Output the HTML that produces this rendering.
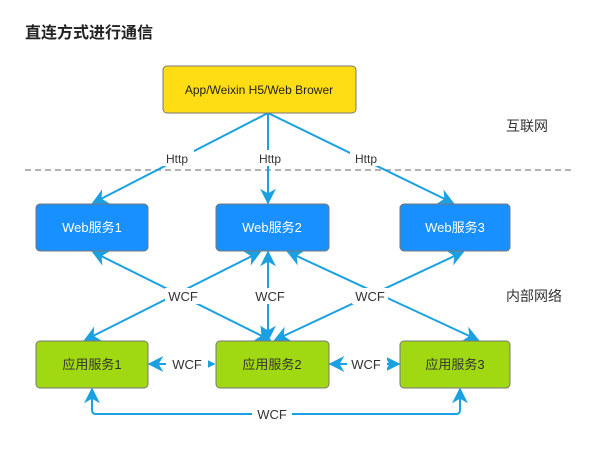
<!DOCTYPE html>
<html><head><meta charset="utf-8"><style>
body{margin:0;background:#fff;}
svg text{font-family:"Liberation Sans","Noto Sans CJK SC",sans-serif;}
</style></head><body>
<svg width="605" height="444" viewBox="0 0 605 444" xmlns="http://www.w3.org/2000/svg">
<defs>
<marker id="a" viewBox="0 0 10 10" refX="9" refY="5" markerWidth="8" markerHeight="8" orient="auto-start-reverse"><path d="M0,0 L10,5 L0,10 L3,5 z" fill="#1ba1e2"/></marker>
</defs>
<rect width="605" height="444" fill="#fff"/>
<text x="25" y="38" font-size="16" font-weight="bold" fill="#222">直连方式进行通信</text>
<line x1="25" y1="170" x2="572" y2="170" stroke="#999" stroke-width="1.6" stroke-dasharray="6,4"/>
<g stroke="#1ba1e2" stroke-width="2" fill="none">
<line x1="268" y1="113" x2="93" y2="203" marker-end="url(#a)"/>
<line x1="268" y1="113" x2="268" y2="203" marker-end="url(#a)"/>
<line x1="268" y1="113" x2="453" y2="203" marker-end="url(#a)"/>
<line x1="93" y1="252" x2="270" y2="340" marker-start="url(#a)" marker-end="url(#a)"/>
<line x1="85" y1="340" x2="260" y2="252" marker-start="url(#a)" marker-end="url(#a)"/>
<line x1="268" y1="252" x2="268" y2="340" marker-start="url(#a)" marker-end="url(#a)"/>
<line x1="288" y1="252" x2="478" y2="340" marker-start="url(#a)" marker-end="url(#a)"/>
<line x1="275" y1="340" x2="463" y2="252" marker-start="url(#a)" marker-end="url(#a)"/>
<line x1="149" y1="364" x2="214" y2="364" marker-start="url(#a)" marker-end="url(#a)"/>
<line x1="330" y1="364" x2="399" y2="364" marker-start="url(#a)" marker-end="url(#a)"/>
<path d="M92 389 V410 Q92 414 96 414 H456 Q460 414 460 410 V389" marker-start="url(#a)" marker-end="url(#a)"/>
</g>
<g font-size="12" fill="#333" text-anchor="middle">
<rect x="160" y="150" width="34" height="16" fill="#fff"/><text x="177" y="163">Http</text>
<rect x="254" y="150" width="32" height="16" fill="#fff"/><text x="270" y="163">Http</text>
<rect x="350" y="150" width="34" height="16" fill="#fff"/><text x="366" y="163">Http</text>
<g font-size="13">
<rect x="165" y="288" width="36" height="16" fill="#fff"/><text x="183" y="301">WCF</text>
<rect x="254" y="288" width="32" height="16" fill="#fff"/><text x="270" y="301">WCF</text>
<rect x="352" y="288" width="36" height="16" fill="#fff"/><text x="370" y="301">WCF</text>
<rect x="166" y="356" width="42" height="16" fill="#fff"/><text x="187" y="369">WCF</text>
<rect x="347" y="356" width="40" height="16" fill="#fff"/><text x="366" y="369">WCF</text>
<rect x="252" y="406" width="40" height="16" fill="#fff"/><text x="272" y="419">WCF</text>
</g>
</g>
<rect x="163" y="66" width="193" height="47" rx="4" fill="#ffdd14" stroke="#777"/>
<text x="259" y="94" font-size="12" text-anchor="middle" fill="#222">App/Weixin H5/Web Brower</text>
<g fill="#1890ff" stroke="#777">
<rect x="36" y="204" width="112" height="47" rx="4"/>
<rect x="216" y="204" width="113" height="47" rx="4"/>
<rect x="400" y="204" width="110" height="47" rx="4"/>
</g>
<g font-size="13" fill="#fff" text-anchor="middle">
<text x="92" y="232">Web服务1</text><text x="272" y="232">Web服务2</text><text x="455" y="232">Web服务3</text>
</g>
<g fill="#a0d911" stroke="#777">
<rect x="36" y="341" width="112" height="47" rx="4"/>
<rect x="216" y="341" width="113" height="47" rx="4"/>
<rect x="400" y="341" width="110" height="47" rx="4"/>
</g>
<g font-size="13" fill="#333" text-anchor="middle">
<text x="92" y="369">应用服务1</text><text x="272" y="369">应用服务2</text><text x="455" y="369">应用服务3</text>
</g>
<text x="506" y="131" font-size="14" fill="#333">互联网</text>
<text x="506" y="301" font-size="14" fill="#333">内部网络</text>
</svg>
</body></html>
